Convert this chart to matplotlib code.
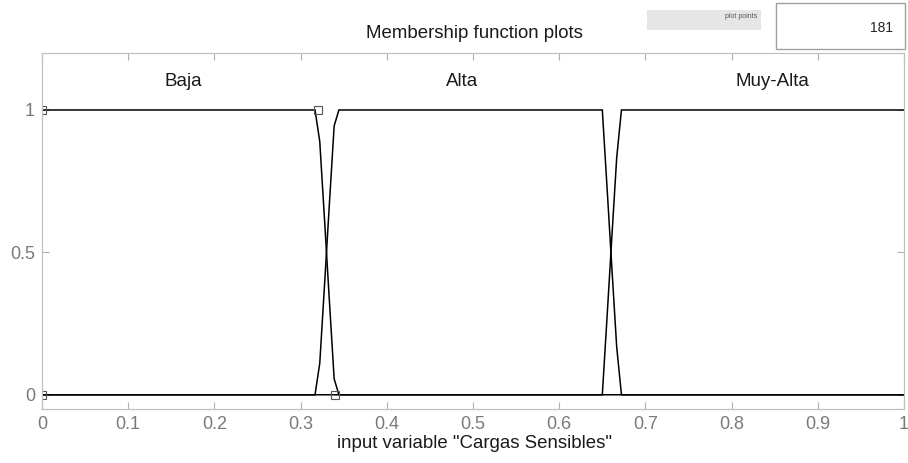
import matplotlib
matplotlib.use('Agg')
import matplotlib.pyplot as plt
from matplotlib.patches import Rectangle

# membership function vertices (181-point sampling of trapezoids)
baja_x = [0.0, 0.3167, 0.3222, 0.3278, 0.3333, 0.3389, 0.3444, 1.0]
baja_y = [1.0, 1.0, 0.889, 0.611, 0.333, 0.056, 0.0, 0.0]
alta_x = [0.0, 0.3167, 0.3222, 0.3278, 0.3333, 0.3389, 0.3444, 0.65, 0.6556, 0.6611, 0.6667, 0.6722, 1.0]
alta_y = [0.0, 0.0, 0.111, 0.389, 0.667, 0.944, 1.0, 1.0, 0.722, 0.444, 0.167, 0.0, 0.0]
muy_x = [0.0, 0.65, 0.6556, 0.6611, 0.6667, 0.6722, 1.0]
muy_y = [0.0, 0.0, 0.278, 0.556, 0.833, 1.0, 1.0]

mf_names = ['Baja', 'Alta', 'Muy-Alta']
mf_label_x = [0.164, 0.487, 0.847]
mf_label_y = 1.1

# selected MF (Baja) parameter handles
handle_x = [0.0, 0.0, 0.32, 0.34]
handle_y = [0.0, 1.0, 1.0, 0.0]

xticks = [0, 0.1, 0.2, 0.3, 0.4, 0.5, 0.6, 0.7, 0.8, 0.9, 1]
xtick_labels = ['0', '0.1', '0.2', '0.3', '0.4', '0.5', '0.6', '0.7', '0.8', '0.9', '1']
yticks = [0, 0.5, 1]
ytick_labels = ['0', '0.5', '1']
plot_points = '181'

plt.rcParams['font.family'] = ['Liberation Sans', 'DejaVu Sans']

fig = plt.figure(figsize=(9.08, 4.63), dpi=100)
ax = fig.add_axes([0.0463, 0.1166, 0.9493, 0.7689])

for xs, ys in [(baja_x, baja_y), (alta_x, alta_y), (muy_x, muy_y)]:
    ax.plot(xs, ys, color='black', lw=1.1, solid_joinstyle='miter')

ax.plot(handle_x, handle_y, linestyle='none', marker='s', markersize=6,
        markerfacecolor='none', markeredgecolor='#555555', markeredgewidth=0.8)

for name, lx in zip(mf_names, mf_label_x):
    ax.text(lx, mf_label_y, name, ha='center', va='center', fontsize=13.5, color='#1a1a1a')

ax.set_xlim(0, 1)
ax.set_ylim(-0.05, 1.2)
ax.set_xticks(xticks)
ax.set_xticklabels(xtick_labels)
ax.set_yticks(yticks)
ax.set_yticklabels(ytick_labels)
ax.tick_params(direction='in', length=5, width=0.8, color='#b0b0b0',
               labelcolor='#7a7a7a', labelsize=13, top=True, right=True, pad=5)
for s in ax.spines.values():
    s.set_color('#c0c0c0')
    s.set_linewidth(0.9)

fig.text(0.5225, 1 - 443 / 463, 'input variable "Cargas Sensibles"', ha='center', va='center',
         fontsize=13.4, color='#1a1a1a')
fig.text(0.5225, 0.928, 'Membership function plots', ha='center', va='center',
         fontsize=13.4, color='#1a1a1a')

# plot points control
fig.add_artist(Rectangle((647 / 908, 1 - 30 / 463), 114 / 908, 20 / 463,
                         transform=fig.transFigure, facecolor='#e6e6e6', edgecolor='none'))
fig.text(757 / 908, 1 - 17 / 463, 'plot points', ha='right', va='center',
         fontsize=5, color='#555555')
fig.add_artist(Rectangle((776 / 908, 1 - 49 / 463), 129 / 908, 46 / 463,
                         transform=fig.transFigure, facecolor='white',
                         edgecolor='#a0a0a0', linewidth=1.0))
fig.text(893 / 908, 1 - 28 / 463, plot_points, ha='right', va='center',
         fontsize=10, color='#222222')

fig.savefig('out.png', dpi=100)
